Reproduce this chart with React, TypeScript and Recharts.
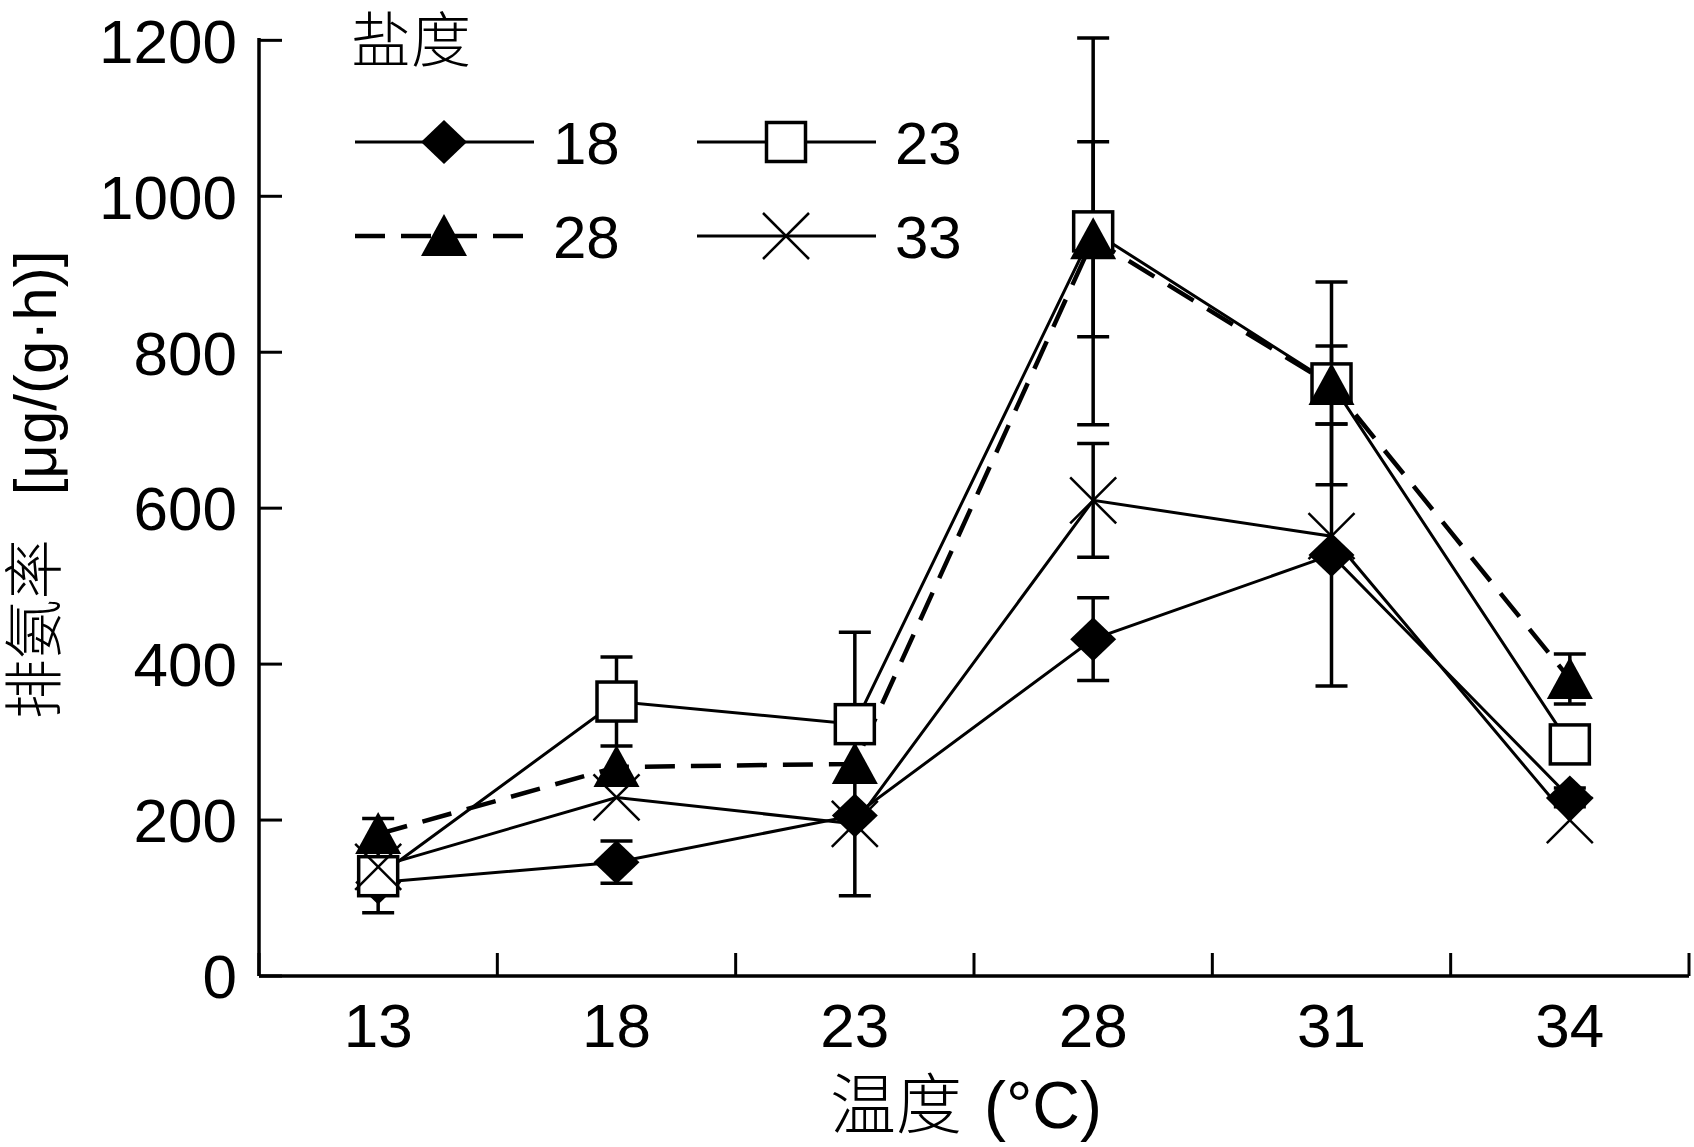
import { LineChart, Line, XAxis, YAxis, ErrorBar, Legend } from 'recharts';

const categories = ['13', '18', '23', '28', '31', '34'];
const seriesNames = ['18', '23', '28', '33'];

const s18 = [120, 146, 206, 432, 540, 229];
const s23 = [128, 352, 323, 955, 760, 297];
const s28 = [182, 268, 272, 945, 758, 381];
const s33 = [140, 229, 195, 610, 564, 200];

const e18 = [39, 27, null, 53, 168, 12];
const e23 = [null, 57, null, 248, 130, null];
const e28 = [20, null, 169, 125, 50, 32];
const e33 = [null, null, null, 73, null, null];

const yTicks = [0, 200, 400, 600, 800, 1000, 1200];
// label ticks sit mid-band, integer ticks mark band edges
const xTicks = [0, 0.5, 1, 1.5, 2, 2.5, 3, 3.5, 4, 4.5, 5, 5.5, 6];

const rows = categories.map((c, i) => ({
  x: i + 0.5,
  temp: c,
  s18: s18[i], e18: e18[i],
  s23: s23[i], e23: e23[i],
  s28: s28[i], e28: e28[i],
  s33: s33[i], e33: e33[i],
}));

const latin = '"Liberation Sans", Arial, Helvetica, sans-serif';
const cjk = '"Liberation Sans", "Noto Sans CJK SC", sans-serif';

const Diamond = ({ cx, cy }: any) => (
  <polygon points={`${cx - 23},${cy} ${cx},${cy - 22} ${cx + 23},${cy} ${cx},${cy + 22}`} fill="#000" />
);
const Square = ({ cx, cy }: any) => (
  <rect x={cx - 19.5} y={cy - 19.5} width={39} height={39} fill="#fff" stroke="#000" strokeWidth={3.5} />
);
const Triangle = ({ cx, cy }: any) => (
  <polygon points={`${cx},${cy - 22} ${cx + 23},${cy + 20} ${cx - 23},${cy + 20}`} fill="#000" />
);
const Cross = ({ cx, cy }: any) => (
  <g stroke="#000" strokeWidth={2.5}>
    <line x1={cx - 23} y1={cy - 23} x2={cx + 23} y2={cy + 23} />
    <line x1={cx - 23} y1={cy + 23} x2={cx + 23} y2={cy - 23} />
  </g>
);

const markers = [Diamond, Square, Triangle, Cross];
const dashes = [undefined, undefined, '30 16', undefined];
const widths = [3, 3, 4.5, 3];

const dotOf = (i: number) => (p: any) => {
  const M = markers[i];
  if (p.cx == null || p.cy == null) return <g key={`n-${i}-${p.index}`} />;
  return <M key={`m-${i}-${p.index}`} cx={p.cx} cy={p.cy} />;
};

const XTick = ({ x, y, payload }: any) => {
  const v = payload.value;
  if (Number.isInteger(v)) {
    return <line x1={x} x2={x} y1={y} y2={y - 23} stroke="#000" strokeWidth={3} />;
  }
  return (
    <text x={x} y={y + 71} textAnchor="middle" fontSize={62} fontFamily={latin} fill="#000">
      {categories[Math.floor(v)]}
    </text>
  );
};

const YTick = ({ x, y, payload }: any) => (
  <g>
    <line x1={x} x2={x + 23} y1={y} y2={y} stroke="#000" strokeWidth={3} />
    <text x={x - 22} y={y} dy="0.36em" textAnchor="end" fontSize={62} fontFamily={latin} fill="#000">
      {payload.value}
    </text>
  </g>
);

const XTitle = (props: any) => {
  const vb = props.viewBox;
  return (
    <text x={vb.x + vb.width / 2 - 8} y={vb.y + 152} textAnchor="middle" fontSize={66} fontFamily={cjk}
      fontWeight={300} fill="#000">
      温度<tspan dx={22}>(°C)</tspan>
    </text>
  );
};

const YTitle = (props: any) => {
  const vb = props.viewBox;
  const cx = vb.x - 124;
  const cy = vb.y + vb.height / 2 - 22;
  return (
    <text x={cx} y={cy} transform={`rotate(-90 ${cx} ${cy})`} textAnchor="middle" dominantBaseline="central"
      fontSize={60} fontFamily={cjk} fontWeight={300} fill="#000">
      排氨率<tspan dx={44}>[μg/(g·h)]</tspan>
    </text>
  );
};

const legendCols = [355, 697];
const legendRows = [142, 236];

const LegendBox = () => (
  <svg width={1000} height={280} style={{ display: 'block' }}>
    <text x={351} y={62} fontSize={60} fontFamily={cjk} fontWeight={300} fill="#000">盐度</text>
    {seriesNames.map((name, i) => {
      const x0 = legendCols[i % 2];
      const y = legendRows[Math.floor(i / 2)];
      const M = markers[i];
      return (
        <g key={name}>
          <line x1={x0} x2={x0 + 179} y1={y} y2={y} stroke="#000" strokeWidth={widths[i]} strokeDasharray={dashes[i]} />
          <M cx={x0 + 89} cy={y} />
          <text x={x0 + 198} y={y} dy="0.36em" fontSize={60} fontFamily={latin} fill="#000">{name}</text>
        </g>
      );
    })}
  </svg>
);

export default function App() {
  const keys = ['s18', 's23', 's28', 's33'];
  const errKeys = ['e18', 'e23', 'e28', 'e33'];
  return (
    <div style={{ position: 'absolute', left: 0, top: 0, width: 1694, height: 1147, background: '#fff' }}>
      <LineChart width={1694} height={1147} data={rows} margin={{ top: 38, right: 5, bottom: 71, left: 159 }}>
        <XAxis
          dataKey="x"
          type="number"
          domain={[0, 6]}
          ticks={xTicks}
          interval={0}
          height={100}
          tickSize={0}
          tickMargin={0}
          tickLine={false}
          axisLine={{ stroke: '#000', strokeWidth: 3.5 }}
          tick={<XTick />}
          label={XTitle}
        />
        <YAxis
          type="number"
          domain={[0, 1200]}
          ticks={yTicks}
          interval={0}
          width={100}
          tickSize={0}
          tickMargin={0}
          tickLine={false}
          axisLine={{ stroke: '#000', strokeWidth: 3.5 }}
          tick={<YTick />}
          label={YTitle}
        />
        <Legend
          layout="vertical"
          align="center"
          verticalAlign="middle"
          wrapperStyle={{ left: 0, top: 0, width: 1000, height: 280 }}
          content={() => <LegendBox />}
        />
        {keys.map((k, i) => (
          <Line
            key={k}
            dataKey={k}
            name={seriesNames[i]}
            type="linear"
            stroke="#000"
            strokeWidth={widths[i]}
            strokeDasharray={dashes[i]}
            dot={dotOf(i)}
            activeDot={false}
            isAnimationActive={false}
          >
            <ErrorBar dataKey={errKeys[i]} width={16} stroke="#000" strokeWidth={3.5} direction="y" isAnimationActive={false} />
          </Line>
        ))}
      </LineChart>
    </div>
  );
}
